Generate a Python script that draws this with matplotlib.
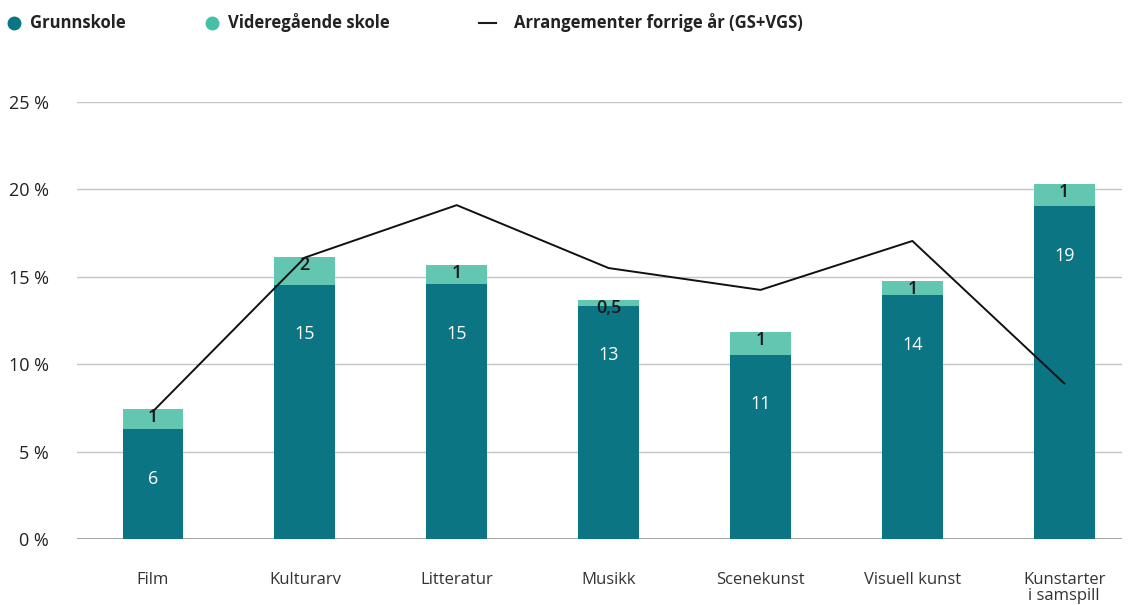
import matplotlib.pyplot as plt
from matplotlib.lines import Line2D

categories = ["Film", "Kulturarv", "Litteratur", "Musikk", "Scenekunst",
              "Visuell kunst", "Kunstarter\ni samspill"]
grunnskole = [6.3, 14.55, 14.6, 13.35, 10.55, 13.95, 19.05]
vgs = [1.15, 1.6, 1.1, 0.35, 1.3, 0.8, 1.25]
forrige_aar = [7.3, 16.1, 19.1, 15.5, 14.25, 17.05, 8.9]
gs_labels = ["6", "15", "15", "13", "11", "14", "19"]
vgs_labels = ["1", "2", "1", "0,5", "1", "1", "1"]

gs_color = "#0b7584"
vgs_color = "#62c6b0"
plt.rcParams["font.family"] = ["Open Sans", "DejaVu Sans"]

fig = plt.figure(figsize=(11.31, 6.05), dpi=100)
ax = fig.add_axes([77 / 1131, 66 / 605, 1045 / 1131, 437 / 605])

x = list(range(len(categories)))
w = 0.40
ax.bar(x, grunnskole, width=w, color=gs_color, zorder=3)
ax.bar(x, vgs, width=w, bottom=grunnskole, color=vgs_color, zorder=3)
ax.plot(x, forrige_aar, color="#111111", linewidth=1.4, zorder=4)

for i in x:
    ax.text(i, grunnskole[i] - 2.85, gs_labels[i], ha="center", va="center",
            color="white", fontsize=13, fontweight="medium", zorder=5)
    ax.text(i, grunnskole[i] + vgs[i] + 0.05, vgs_labels[i], ha="center", va="top",
            color="#1a1a1a", fontsize=13, fontweight="semibold", zorder=5)

ax.set_xlim(-0.5, 6.38)
ax.set_ylim(0, 25)
ax.set_yticks([0, 5, 10, 15, 20, 25])
ax.set_yticklabels([f"{v} %" for v in [0, 5, 10, 15, 20, 25]], fontsize=13,
                   color="#222222")
ax.set_xticks(x)
ax.set_xticklabels(categories, fontsize=12, color="#333333", linespacing=0.95)
ax.tick_params(axis="both", length=0)
ax.tick_params(axis="x", pad=24)
ax.tick_params(axis="y", pad=20)
ax.grid(axis="y", color="#c4c4c4", linewidth=1, zorder=0)
for s in ax.spines.values():
    s.set_visible(False)
ax.axhline(0, color="#9a9a9a", linewidth=1.2, zorder=2)

# legend drawn by hand at the top
ly = 1 - 23 / 605
fig.add_artist(Line2D([14 / 1131], [ly], marker="o", markersize=9, color=gs_color,
                      linestyle="none", transform=fig.transFigure))
fig.text(30 / 1131, ly, "Grunnskole", fontsize=12, fontweight="bold",
         va="center", color="#222222")
fig.add_artist(Line2D([212 / 1131], [ly], marker="o", markersize=9, color="#45bfa6",
                      linestyle="none", transform=fig.transFigure))
fig.text(228 / 1131, ly, "Videregående skole", fontsize=12, fontweight="bold",
         va="center", color="#222222")
fig.add_artist(Line2D([479 / 1131, 496 / 1131], [ly, ly], color="#1a1a1a",
                      linewidth=1.5, transform=fig.transFigure))
fig.text(514 / 1131, ly, "Arrangementer forrige år (GS+VGS)", fontsize=12,
         fontweight="bold", va="center", color="#222222")

fig.savefig("out.png", dpi=100)
